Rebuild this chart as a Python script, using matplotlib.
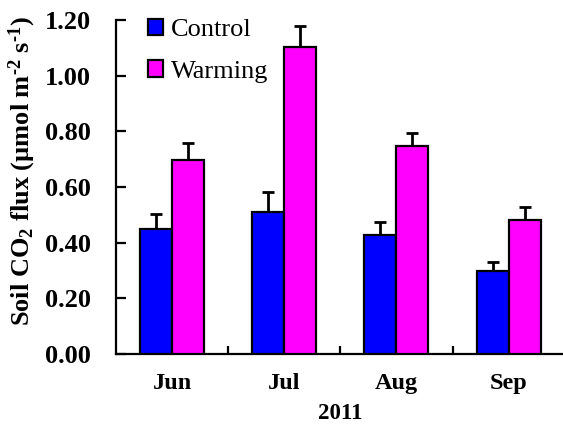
import numpy as np
import matplotlib
matplotlib.use("Agg")
import matplotlib.pyplot as plt

plt.rcParams['font.family'] = ['Liberation Serif', 'DejaVu Serif']
plt.rcParams['mathtext.fontset'] = 'custom'
plt.rcParams['mathtext.bf'] = 'Liberation Serif:bold'
plt.rcParams['mathtext.rm'] = 'Liberation Serif:bold'
plt.rcParams['mathtext.default'] = 'bf'

months = ["Jun", "Jul", "Aug", "Sep"]
control = [0.448, 0.511, 0.428, 0.299]
control_se = [0.055, 0.070, 0.047, 0.030]
warming = [0.697, 1.103, 0.748, 0.481]
warming_se = [0.062, 0.076, 0.047, 0.046]
yticks = [0.0, 0.2, 0.4, 0.6, 0.8, 1.0, 1.2]

fig = plt.figure(figsize=(5.63, 4.26), dpi=100)
ax = fig.add_axes([0.206, 0.169, 0.797, 0.784])

x = np.arange(len(months))
w = 0.285
lw = 1.6
ekw = dict(elinewidth=2, capthick=2, ecolor='black')
ax.bar(x - w / 2, control, w, color='#0000FF', edgecolor='black', linewidth=lw,
       label='Control', zorder=3)
ax.bar(x + w / 2, warming, w, color='#FF00FF', edgecolor='black', linewidth=lw,
       label='Warming', zorder=3)
ax.errorbar(x - w / 2, control, yerr=[np.zeros(4), control_se], fmt='none',
            capsize=4, zorder=2, **ekw)
ax.errorbar(x + w / 2, warming, yerr=[np.zeros(4), warming_se], fmt='none',
            capsize=4, zorder=2, **ekw)

ax.set_xlim(-0.5, 3.5)
ax.set_ylim(0, 1.2)
ax.set_yticks(yticks)
ax.set_yticklabels(['%.2f' % v for v in yticks], fontsize=19, fontweight='bold')
ax.set_xticks(x)
ax.set_xticklabels(months, fontsize=17.5, fontweight='bold')
ax.set_xticks([0.5, 1.5, 2.5], minor=True)
ax.tick_params(axis='x', which='major', length=0, pad=14)
ax.tick_params(axis='x', which='minor', direction='in', length=6, width=1.6)
ax.tick_params(axis='y', direction='in', length=7, width=1.6, pad=18)

for side in ['top', 'right']:
    ax.spines[side].set_visible(False)
for side in ['left', 'bottom']:
    ax.spines[side].set_linewidth(1.6)

ax.set_xlabel('2011', fontsize=16.5, fontweight='bold', labelpad=6.5)
ax.set_ylabel(r'Soil CO$_2$ flux (µmol m$^{\text{-}2}$ s$^{\text{-}1}$)',
              fontsize=19, fontweight='bold')
ax.yaxis.set_label_coords(-0.173, 0.548)

leg = ax.legend(loc='upper left', bbox_to_anchor=(0.047, 1.035), frameon=False,
                fontsize=19, handlelength=0.58, handleheight=0.58,
                handletextpad=0.3, labelspacing=0.72, borderaxespad=0)

fig.savefig('out.png', dpi=100)
